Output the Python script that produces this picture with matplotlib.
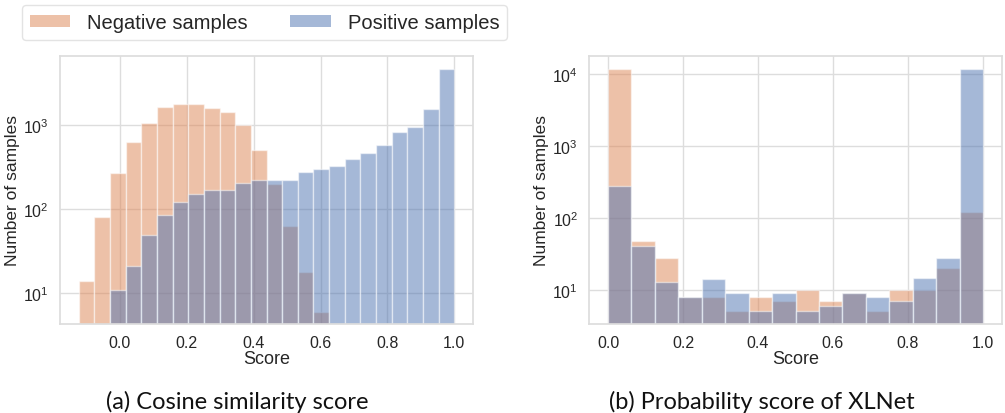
import matplotlib
matplotlib.use("Agg")
import matplotlib.pyplot as plt
import seaborn as sns
import numpy as np
from matplotlib.patches import Patch

# ---------------- data ----------------
# (a) cosine similarity score: 24 bins from -0.123 to 1.0
cos_range = (-0.123, 1.0)
cos_neg = [14, 80, 273, 632, 1075, 1651, 1780, 1794, 1607, 1429, 1000, 508,
           200, 63, 18, 6, 0, 0, 0, 0, 0, 0, 0, 0]
cos_pos = [0, 0, 11, 21, 49, 85, 121, 151, 171, 170, 207, 223,
           223, 223, 280, 299, 325, 397, 468, 588, 839, 955, 1549, 4680]

# (b) XLNet probability score: 16 bins from 0 to 1
xl_range = (0.0, 1.0)
xl_neg = [11600, 47, 27.5, 8, 8, 5, 8, 7, 10, 7, 9, 5, 10, 10, 20, 119]
xl_pos = [275, 40, 13, 8, 14, 9, 5, 9, 5, 6, 9, 8, 7, 14.7, 27.5, 11600]

labels = ["Negative samples", "Positive samples"]
captions = ["(a) Cosine similarity score", "(b) Probability score of XLNet"]
xlabel = "Score"
ylabel = "Number of samples"

# ---------------- style ----------------
sns.set_theme(style="whitegrid")
plt.rcParams["font.family"] = ["Liberation Sans", "DejaVu Sans"]
plt.rcParams["mathtext.fontset"] = "custom"
plt.rcParams["mathtext.rm"] = "Liberation Sans"
plt.rcParams["mathtext.it"] = "Liberation Sans:italic"
plt.rcParams["mathtext.bf"] = "Liberation Sans:bold"

pal = sns.color_palette("deep")
c_neg, c_pos = pal[1], pal[0]

fig = plt.figure(figsize=(10.05, 4.14), dpi=100)
W, H = 1005, 414
ax1 = fig.add_axes([60 / W, 1 - 325 / H, 413 / W, 268 / H])
ax2 = fig.add_axes([589.25 / W, 1 - 325 / H, 412.5 / W, 268 / H])


def draw(ax, rng, neg, pos, ylim, ylab_x):
    n = len(neg)
    edges = np.linspace(rng[0], rng[1], n + 1)
    w = edges[1] - edges[0]
    negv = np.array(neg, float)
    posv = np.array(pos, float)
    m = negv > 0
    ax.bar(edges[:-1][m], negv[m], width=w, align="edge", color=c_neg,
           alpha=0.5, edgecolor="white", linewidth=1.0)
    m = posv > 0
    ax.bar(edges[:-1][m], posv[m], width=w, align="edge", color=c_pos,
           alpha=0.5, edgecolor="white", linewidth=1.0)
    ax.set_yscale("log")
    ax.set_ylim(*ylim)
    ax.set_xticks([0.0, 0.2, 0.4, 0.6, 0.8, 1.0])
    ax.set_xticklabels(["0.0", "0.2", "0.4", "0.6", "0.8", "1.0"])
    ax.tick_params(axis="both", labelsize=11.5, pad=2)
    ax.set_xlabel(xlabel, fontsize=13, labelpad=0)
    ax.set_ylabel(ylabel, fontsize=12.5)
    ax.yaxis.set_label_coords(ylab_x, 0.5)
    ax.minorticks_off()
    for s in ax.spines.values():
        s.set_color("#dddddd")
    ax.grid(True, color="#dddddd", linewidth=1.0)


draw(ax1, cos_range, cos_neg, cos_pos, (10 ** 0.634, 10 ** 3.825), -0.097)
ax1.set_xlim(-0.179, 1.056)
ax1.set_yticks([10, 100, 1000])
draw(ax2, xl_range, xl_neg, xl_pos, (10 ** 0.524, 10 ** 4.246), -0.097)
ax2.set_xlim(-0.05, 1.05)
ax2.set_yticks([10, 100, 1000, 10000])

handles = [Patch(facecolor=c_neg, alpha=0.5, edgecolor="none"),
           Patch(facecolor=c_pos, alpha=0.5, edgecolor="none")]
leg = fig.legend(handles, labels, loc="upper left",
                 bbox_to_anchor=(22 / W, 1 - 6 / H), ncol=2, fontsize=14.5,
                 frameon=True, handlelength=2.0, handleheight=0.6,
                 handletextpad=0.85, columnspacing=2.1, borderpad=0.4,
                 borderaxespad=0)
leg.get_frame().set_edgecolor("#dddddd")

for x, t in zip([237 / W, 762 / W], captions):
    fig.text(x, 1 - 402 / H, t, ha="center", va="center", fontsize=17,
             family=["Lato", "DejaVu Sans"], color="#111111")

fig.savefig("out.png", dpi=100)
